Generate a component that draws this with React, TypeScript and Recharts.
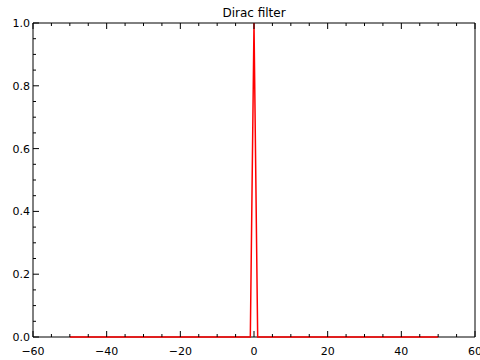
import React from "react";
import { LineChart, Line, XAxis, YAxis } from "recharts";

// Dirac filter sampled on -50..50: zero everywhere except at x = 0
const xValues = [-50, -1, 0, 1, 50];
const filterValues = [0, 0, 1, 0, 0];

const xTicks = [
  -60, -55, -50, -45, -40, -35, -30, -25, -20, -15, -10, -5, 0, 5, 10, 15, 20,
  25, 30, 35, 40, 45, 50, 55, 60,
];
const yTicks = [
  0, 0.05, 0.1, 0.15, 0.2, 0.25, 0.3, 0.35, 0.4, 0.45, 0.5, 0.55, 0.6, 0.65,
  0.7, 0.75, 0.8, 0.85, 0.9, 0.95, 1.0,
];

const data = xValues.map((x, i) => ({ x, value: filterValues[i] }));

const FONT = "'DejaVu Sans', Verdana, sans-serif";
const AXIS = "#000";

const isMajorX = (v: number) => v % 20 === 0;
const isMajorY = (v: number) =>
  Math.round(v * 100) % 20 === 0;

const fmtX = (v: number) => (v < 0 ? `\u2212${Math.abs(v)}` : `${v}`);

const BottomTick = (props: any) => {
  const { x, y, payload } = props;
  const major = isMajorX(payload.value);
  return (
    <g>
      <line x1={x} x2={x} y1={y} y2={y - (major ? 6 : 3)} stroke={AXIS} />
      {major && (
        <text x={x} y={y + 18} textAnchor="middle" fontSize={11} fontFamily={FONT} fill="#000">
          {fmtX(payload.value)}
        </text>
      )}
    </g>
  );
};

const TopTick = (props: any) => {
  const { x, y, payload } = props;
  const major = isMajorX(payload.value);
  return <line x1={x} x2={x} y1={y} y2={y + (major ? 6 : 3)} stroke={AXIS} />;
};

const LeftTick = (props: any) => {
  const { x, y, payload } = props;
  const major = isMajorY(payload.value);
  return (
    <g>
      <line x1={x} x2={x + (major ? 6 : 3)} y1={y} y2={y} stroke={AXIS} />
      {major && (
        <text x={x - 3} y={y + 4} textAnchor="end" fontSize={11} fontFamily={FONT} fill="#000">
          {payload.value.toFixed(1)}
        </text>
      )}
    </g>
  );
};

const RightTick = (props: any) => {
  const { x, y, payload } = props;
  const major = isMajorY(payload.value);
  return <line x1={x} x2={x - (major ? 6 : 3)} y1={y} y2={y} stroke={AXIS} />;
};

export default function App() {
  return (
    <div
      style={{
        position: "absolute",
        left: 0,
        top: 0,
        width: 480,
        height: 360,
        background: "#fff",
      }}
    >
      <LineChart
        width={480}
        height={360}
        data={data}
        margin={{ top: 22, right: 4, bottom: 0, left: 0 }}
      >
        <XAxis
          xAxisId="bottom"
          dataKey="x"
          type="number"
          domain={[-60, 60]}
          ticks={xTicks}
          interval={0}
          height={23}
          tickSize={0}
          tickMargin={0}
          tickLine={false}
          axisLine={{ stroke: AXIS }}
          tick={<BottomTick />}
        />
        <XAxis
          xAxisId="top"
          orientation="top"
          dataKey="x"
          type="number"
          domain={[-60, 60]}
          ticks={xTicks}
          interval={0}
          height={1}
          tickSize={0}
          tickMargin={0}
          tickLine={false}
          axisLine={{ stroke: AXIS }}
          tick={<TopTick />}
          label={{
            value: "Dirac filter",
            position: "top",
            offset: 5,
            fontSize: 12,
            fontFamily: FONT,
            fill: "#000",
          }}
        />
        <YAxis
          yAxisId="left"
          type="number"
          domain={[0, 1]}
          ticks={yTicks}
          interval={0}
          width={33}
          tickSize={0}
          tickMargin={0}
          tickLine={false}
          axisLine={{ stroke: AXIS }}
          tick={<LeftTick />}
        />
        <YAxis
          yAxisId="right"
          orientation="right"
          type="number"
          domain={[0, 1]}
          ticks={yTicks}
          interval={0}
          width={1}
          tickSize={0}
          tickMargin={0}
          tickLine={false}
          axisLine={{ stroke: AXIS }}
          tick={<RightTick />}
        />
        <Line
          xAxisId="bottom"
          yAxisId="left"
          type="linear"
          dataKey="value"
          stroke="#ff0000"
          strokeWidth={1.5}
          dot={false}
          zIndex={600}
          isAnimationActive={false}
        />
      </LineChart>
    </div>
  );
}
